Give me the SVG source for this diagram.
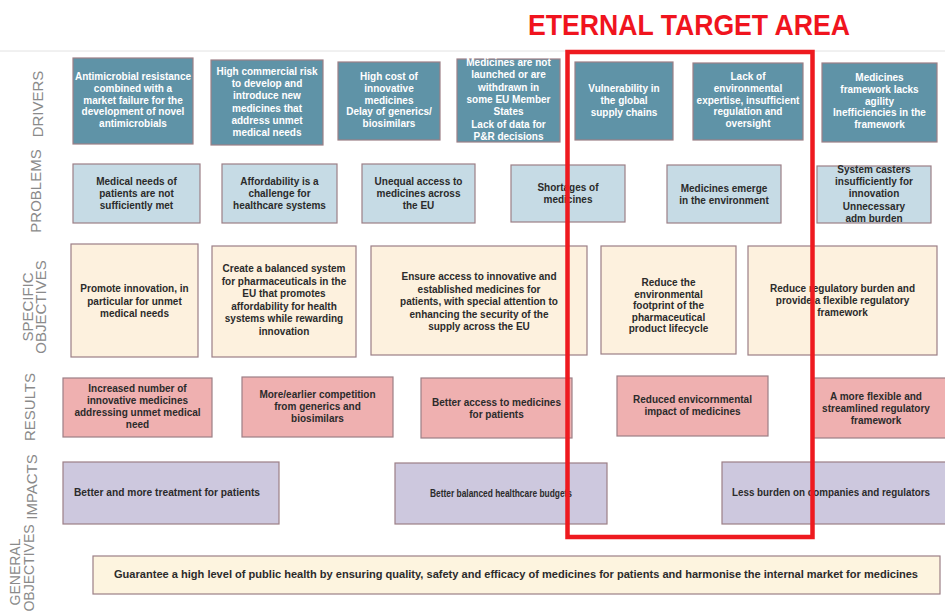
<svg xmlns="http://www.w3.org/2000/svg" width="945" height="612" viewBox="0 0 945 612">
  <style>
    .bg { fill: #ffffff; }
    .rule { stroke: #e2e2e2; stroke-width: 1; }
    .box { stroke: #9c7f86; stroke-width: 1.2; }
    .drv { fill: #5f93a7; }
    .prb { fill: #c6dbe5; }
    .obj { fill: #fdf1de; }
    .res { fill: #efb0b0; }
    .imp { fill: #cdc8de; }
    .gen { fill: #fdf4df; }
    text { font-family: "Liberation Sans", Arial, sans-serif; font-weight: bold; font-size: 10px; text-anchor: middle; }
    .w { fill: #ffffff; }
    .d { fill: #2b2b2b; }
    .lbl { font-weight: normal; font-size: 15px; fill: #8a8a8a; }
    .lbl-sm { font-size: 14px; }
    .title { font-size: 30px; fill: #f0141e; text-anchor: start; }
    .target { fill: none; stroke: #ee1a1f; stroke-width: 4.5; }
  </style>

  <rect class="bg" x="0" y="0" width="945" height="612"/>
  <line class="rule" x1="0" y1="51" x2="945" y2="51"/>

  <!-- Row labels -->
  <g id="row-labels">
    <text class="lbl" transform="translate(43,104) rotate(-90)">DRIVERS</text>
    <text class="lbl" transform="translate(41,191) rotate(-90)">PROBLEMS</text>
    <text class="lbl" transform="translate(33,307) rotate(-90)">SPECIFIC</text>
    <text class="lbl" transform="translate(46,307) rotate(-90)">OBJECTIVES</text>
    <text class="lbl" transform="translate(35,407) rotate(-90)">RESULTS</text>
    <text class="lbl" transform="translate(37,487) rotate(-90)">IMPACTS</text>
    <text class="lbl lbl-sm" transform="translate(20,572) rotate(-90)">GENERAL</text>
    <text class="lbl lbl-sm" transform="translate(34,568) rotate(-90)">OBJECTIVES</text>
  </g>

  <!-- Drivers -->
  <g id="driver-amr">
    <rect class="box drv" x="73" y="58" width="120" height="86"/>
    <text class="w" x="133" y="80">Antimicrobial resistance<tspan x="133" dy="11.8">combined with a</tspan><tspan x="133" dy="11.8">market failure for the</tspan><tspan x="133" dy="11.8">development of novel</tspan><tspan x="133" dy="11.8">antimicrobials</tspan></text>
  </g>
  <g id="driver-risk">
    <rect class="box drv" x="211" y="60" width="112" height="85"/>
    <text class="w" x="267" y="75">High commercial risk<tspan x="267" dy="12.2">to develop and</tspan><tspan x="267" dy="12.2">introduce new</tspan><tspan x="267" dy="12.2">medicines that</tspan><tspan x="267" dy="12.2">address unmet</tspan><tspan x="267" dy="12.2">medical needs</tspan></text>
  </g>
  <g id="driver-cost">
    <rect class="box drv" x="338" y="62" width="102" height="78"/>
    <text class="w" x="389" y="80">High cost of<tspan x="389" dy="11.8">innovative</tspan><tspan x="389" dy="11.8">medicines</tspan><tspan x="389" dy="11.8">Delay of generics/</tspan><tspan x="389" dy="11.8">biosimilars</tspan></text>
  </g>
  <g id="driver-launch">
    <rect class="box drv" x="457" y="59" width="103" height="83"/>
    <text class="w" x="508.5" y="66">Medicines are not<tspan x="508.5" dy="12.3">launched or are</tspan><tspan x="508.5" dy="12.3">withdrawn in</tspan><tspan x="508.5" dy="12.3">some EU Member</tspan><tspan x="508.5" dy="12.3">States</tspan><tspan x="508.5" dy="12.3">Lack of data for</tspan><tspan x="508.5" dy="12.3">P&amp;R decisions</tspan></text>
  </g>
  <g id="driver-supply">
    <rect class="box drv" x="575" y="62" width="98" height="78"/>
    <text class="w" x="624" y="92">Vulnerability in<tspan x="624" dy="11.8">the global</tspan><tspan x="624" dy="11.8">supply chains</tspan></text>
  </g>
  <g id="driver-environment">
    <rect class="box drv" x="693" y="63" width="110" height="77"/>
    <text class="w" x="748" y="80">Lack of<tspan x="748" dy="11.8">environmental</tspan><tspan x="748" dy="11.8">expertise, insufficient</tspan><tspan x="748" dy="11.8">regulation and</tspan><tspan x="748" dy="11.8">oversight</tspan></text>
  </g>
  <g id="driver-framework">
    <rect class="box drv" x="822" y="63" width="115" height="79"/>
    <text class="w" x="879.5" y="81">Medicines<tspan x="879.5" dy="11.8">framework lacks</tspan><tspan x="879.5" dy="11.8">agility</tspan><tspan x="879.5" dy="11.8">Inefficiencies in the</tspan><tspan x="879.5" dy="11.8">framework</tspan></text>
  </g>

  <!-- Problems -->
  <g id="problem-needs">
    <rect class="box prb" x="73" y="164" width="127" height="59"/>
    <text class="d" x="136.5" y="185">Medical needs of<tspan x="136.5" dy="12">patients are not</tspan><tspan x="136.5" dy="12">sufficiently met</tspan></text>
  </g>
  <g id="problem-affordability">
    <rect class="box prb" x="222" y="164" width="115" height="59"/>
    <text class="d" x="279.5" y="185">Affordability is a<tspan x="279.5" dy="12">challenge for</tspan><tspan x="279.5" dy="12">healthcare systems</tspan></text>
  </g>
  <g id="problem-access">
    <rect class="box prb" x="362" y="164" width="113" height="59"/>
    <text class="d" x="418.5" y="185">Unequal access to<tspan x="418.5" dy="12">medicines across</tspan><tspan x="418.5" dy="12">the EU</tspan></text>
  </g>
  <g id="problem-shortages">
    <rect class="box prb" x="511" y="165" width="114" height="57"/>
    <text class="d" x="568" y="191">Shortages of<tspan x="568" dy="12">medicines</tspan></text>
  </g>
  <g id="problem-environment">
    <rect class="box prb" x="667" y="165" width="114" height="58"/>
    <text class="d" x="724" y="192">Medicines emerge<tspan x="724" dy="12">in the environment</tspan></text>
  </g>
  <g id="problem-system">
    <rect class="box prb" x="817" y="166" width="114" height="57"/>
    <text class="d" x="874" y="173">System casters<tspan x="874" dy="12.2">insufficiently for</tspan><tspan x="874" dy="12.2">innovation</tspan><tspan x="874" dy="12.2">Unnecessary</tspan><tspan x="874" dy="12.2">adm burden</tspan></text>
  </g>

  <!-- Specific objectives -->
  <g id="objective-innovation">
    <rect class="box obj" x="71" y="244" width="127" height="113"/>
    <text class="d" x="134.5" y="292">Promote innovation, in<tspan x="134.5" dy="12.5">particular for unmet</tspan><tspan x="134.5" dy="12.5">medical needs</tspan></text>
  </g>
  <g id="objective-balanced">
    <rect class="box obj" x="212" y="246" width="144" height="111"/>
    <text class="d" x="284" y="272">Create a balanced system<tspan x="284" dy="12.5">for pharmaceuticals in the</tspan><tspan x="284" dy="12.5">EU that promotes</tspan><tspan x="284" dy="12.5">affordability for health</tspan><tspan x="284" dy="12.5">systems while rewarding</tspan><tspan x="284" dy="12.5">innovation</tspan></text>
  </g>
  <g id="objective-access">
    <rect class="box obj" x="371" y="246" width="216" height="109"/>
    <text class="d" x="479" y="280">Ensure access to innovative and<tspan x="479" dy="12.5">established medicines for</tspan><tspan x="479" dy="12.5">patients, with special attention to</tspan><tspan x="479" dy="12.5">enhancing the security of the</tspan><tspan x="479" dy="12.5">supply across the EU</tspan></text>
  </g>
  <g id="objective-footprint">
    <rect class="box obj" x="601" y="246" width="135" height="108"/>
    <text class="d" x="668.5" y="286">Reduce the<tspan x="668.5" dy="11.5">environmental</tspan><tspan x="668.5" dy="11.5">footprint of the</tspan><tspan x="668.5" dy="11.5">pharmaceutical</tspan><tspan x="668.5" dy="11.5">product lifecycle</tspan></text>
  </g>
  <g id="objective-regulatory">
    <rect class="box obj" x="748" y="246" width="189" height="109"/>
    <text class="d" x="842.5" y="292">Reduce regulatory burden and<tspan x="842.5" dy="12">provide a flexible regulatory</tspan><tspan x="842.5" dy="12">framework</tspan></text>
  </g>

  <!-- Results -->
  <g id="result-innovative">
    <rect class="box res" x="63" y="378" width="149" height="59"/>
    <text class="d" x="137.5" y="392">Increased number of<tspan x="137.5" dy="12">innovative medicines</tspan><tspan x="137.5" dy="12">addressing unmet medical</tspan><tspan x="137.5" dy="12">need</tspan></text>
  </g>
  <g id="result-competition">
    <rect class="box res" x="242" y="377" width="151" height="60"/>
    <text class="d" x="317.5" y="398">More/earlier competition<tspan x="317.5" dy="12">from generics and</tspan><tspan x="317.5" dy="12">biosimilars</tspan></text>
  </g>
  <g id="result-access">
    <rect class="box res" x="421" y="378" width="151" height="60"/>
    <text class="d" x="496.5" y="406">Better access to medicines<tspan x="496.5" dy="12">for patients</tspan></text>
  </g>
  <g id="result-environment">
    <rect class="box res" x="617" y="376" width="151" height="60"/>
    <text class="d" x="692.5" y="403">Reduced envicornmental<tspan x="692.5" dy="12">impact of medicines</tspan></text>
  </g>
  <g id="result-framework">
    <rect class="box res" x="813" y="378" width="140" height="60"/>
    <text class="d" x="876" y="400">A more flexible and<tspan x="876" dy="12">streamlined regulatory</tspan><tspan x="876" dy="12">framework</tspan></text>
  </g>

  <!-- Impacts -->
  <g id="impact-treatment">
    <rect class="box imp" x="63" y="462" width="216" height="62"/>
    <text class="d" x="167" y="496" textLength="186" lengthAdjust="spacingAndGlyphs">Better and more treatment for patients</text>
  </g>
  <g id="impact-budgets">
    <rect class="box imp" x="395" y="463" width="212" height="61"/>
    <text class="d" x="501" y="497" textLength="142" lengthAdjust="spacingAndGlyphs">Better balanced healthcare budgets</text>
  </g>
  <g id="impact-burden">
    <rect class="box imp" x="722" y="462" width="230" height="62"/>
    <text class="d" x="831" y="496" textLength="198" lengthAdjust="spacingAndGlyphs">Less burden on companies and regulators</text>
  </g>

  <!-- General objective -->
  <g id="general-objective">
    <rect class="box gen" x="93" y="556" width="847" height="38"/>
    <text class="d" x="516" y="578" textLength="804" lengthAdjust="spacingAndGlyphs">Guarantee a high level of public health by ensuring quality, safety and efficacy of medicines for patients and harmonise the internal market for medicines</text>
  </g>

  <!-- Highlighted target area -->
  <g id="target-area">
    <rect class="target" x="567.5" y="52" width="245" height="485"/>
    <text class="title" x="528" y="35" textLength="322" lengthAdjust="spacingAndGlyphs">ETERNAL TARGET AREA</text>
  </g>
</svg>
